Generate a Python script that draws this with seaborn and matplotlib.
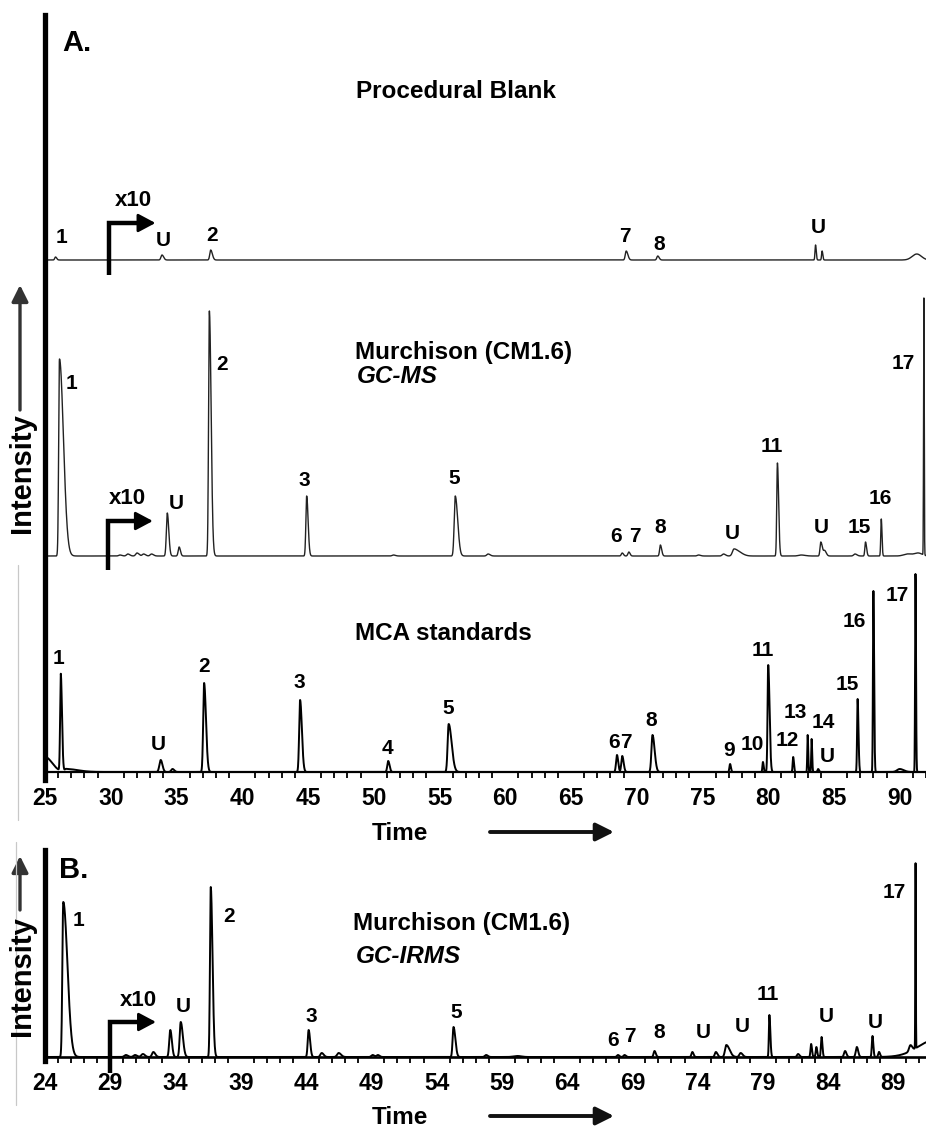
import numpy as np
import pandas as pd
import matplotlib
matplotlib.use("Agg")
import matplotlib.pyplot as plt
from matplotlib.ticker import FixedLocator, MultipleLocator, NullFormatter
from matplotlib.patches import FancyArrowPatch
from matplotlib.lines import Line2D
import seaborn as sns

sns.set_theme(style="white")
plt.rcParams["font.family"] = ["Liberation Sans", "DejaVu Sans"]
plt.rcParams["font.weight"] = "bold"
plt.rcParams["text.color"] = "black"
plt.rcParams["xtick.color"] = "black"
plt.rcParams["xtick.labelcolor"] = "black"
plt.rcParams["axes.labelcolor"] = "black"

# ---------------------------------------------------------------- data
# Peak tables: retention time (min), height (arb. units), rise width, tail ratio
blank_rt = [25.8, 33.9, 37.6, 69.2, 71.6, 83.6, 84.1, 91.3]
blank_h = [3, 5, 10, 9, 4, 15, 9, 6]
blank_w = [0.06, 0.08, 0.07, 0.07, 0.07, 0.04, 0.04, 0.35]
blank_tail = [1.5, 1.5, 1.8, 1.8, 1.5, 1.3, 1.3, 1.0]

gcms_rt = [26.1, 30.7, 31.3, 32.0, 32.5, 33.1, 34.3, 35.2, 37.5, 44.9, 51.5,
           56.2, 58.7, 68.9, 69.4, 71.8, 74.7, 76.6, 77.4, 77.9, 80.7, 82.5,
           84.0, 84.3, 86.6, 87.4, 88.6, 90.6, 91.4, 91.84]
gcms_h = [197, 1, 2, 3, 2, 2, 43, 9, 245, 60, 1,
          60, 2, 3, 4, 11, 1, 2, 7, 2, 93, 1,
          14, 5, 2, 14, 37, 2, 3, 257]
gcms_w = [0.06, 0.1, 0.1, 0.1, 0.1, 0.1, 0.07, 0.07, 0.06, 0.06, 0.1,
          0.08, 0.1, 0.07, 0.07, 0.06, 0.1, 0.1, 0.12, 0.2, 0.05, 0.2,
          0.06, 0.08, 0.1, 0.05, 0.04, 0.3, 0.3, 0.025]
gcms_tail = [5.0, 1.5, 1.5, 1.5, 1.5, 1.5, 1.6, 1.4, 2.2, 1.8, 1.5,
             2.3, 1.5, 1.3, 1.3, 1.6, 1.5, 1.5, 2.5, 1.5, 1.8, 1.5,
             2.0, 1.5, 1.5, 1.6, 1.3, 1.0, 1.0, 1.0]

mca_rt = [25.0, 26.2, 26.6, 33.8, 34.7, 37.1, 44.4, 51.1, 55.7, 68.5, 68.9,
          71.2, 77.1, 79.6, 80.0, 81.9, 83.0, 83.3, 83.8, 86.8, 88.0, 90.0, 91.2]
mca_h = [15, 97, 3, 12, 3, 89, 72, 11, 48, 17, 16,
         37, 8, 10, 107, 15, 37, 33, 3, 73, 181, 3, 198]
mca_w = [0.03, 0.05, 0.1, 0.1, 0.1, 0.07, 0.07, 0.07, 0.08, 0.07, 0.07,
         0.08, 0.05, 0.04, 0.05, 0.04, 0.03, 0.03, 0.05, 0.04, 0.035, 0.2, 0.03]
mca_tail = [18.0, 1.8, 9.0, 1.3, 1.3, 2.0, 1.9, 1.5, 2.8, 1.3, 1.5,
            2.0, 1.3, 1.3, 2.0, 1.4, 1.4, 1.4, 1.2, 1.6, 1.5, 1.5, 1.3]

irms_rt = [25.4, 30.2, 30.9, 31.5, 32.3, 33.6, 34.4, 36.7, 44.2, 45.2, 46.5,
           49.1, 49.5, 55.3, 57.8, 60.2, 67.9, 68.4, 70.7, 73.6, 75.4, 76.2,
           77.3, 79.5, 81.7, 82.7, 83.1, 83.5, 85.3, 86.2, 87.4, 87.9, 90.3,
           92.2, 90.7]
irms_h = [155, 2, 2, 3, 5, 27, 35, 170, 27, 4, 4,
          2, 2, 30, 2, 1, 2, 2, 6, 5, 5, 12,
          4, 42, 3, 13, 10, 20, 6, 10, 21, 5, 6,
          17, 185]
irms_w = [0.07, 0.12, 0.12, 0.12, 0.1, 0.08, 0.08, 0.06, 0.07, 0.1, 0.12,
          0.1, 0.1, 0.07, 0.1, 0.3, 0.08, 0.08, 0.07, 0.07, 0.08, 0.1,
          0.1, 0.04, 0.08, 0.05, 0.05, 0.05, 0.08, 0.08, 0.05, 0.06, 0.1,
          1.3, 0.02]
irms_tail = [4.5, 1.3, 1.3, 1.3, 1.5, 1.5, 2.0, 2.2, 1.6, 1.5, 1.5,
             1.3, 1.3, 2.0, 1.3, 1.0, 1.3, 1.3, 1.4, 1.3, 1.5, 2.5,
             1.5, 1.8, 1.3, 1.3, 1.3, 1.3, 1.3, 1.3, 1.3, 1.3, 1.3,
             1.0, 1.0]

# Peak annotations: (label, time, level)
blank_labels = [("1", 26.29, 535), ("U", 33.97, 532), ("2", 37.70, 537),
                ("7", 69.11, 536), ("8", 71.69, 528), ("U", 83.78, 545)]
gcms_labels = [("1", 27.05, 389), ("2", 38.46, 408), ("U", 34.96, 269),
               ("3", 44.70, 292), ("5", 56.10, 294), ("6", 68.42, 236),
               ("7", 69.87, 236), ("8", 71.77, 245), ("U", 77.24, 239),
               ("11", 80.29, 326), ("U", 84.01, 245), ("15", 86.90, 245),
               ("16", 88.50, 274), ("17", 90.25, 409)]
mca_labels = [("1", 25.99, 114), ("U", 33.59, 27), ("2", 37.09, 106),
              ("3", 44.32, 89), ("4", 51.01, 24), ("5", 55.65, 63),
              ("6", 68.27, 30), ("7", 69.18, 30), ("8", 71.08, 51),
              ("9", 77.02, 21), ("10", 78.76, 28), ("11", 79.60, 121),
              ("12", 81.43, 31), ("13", 82.03, 59), ("14", 84.16, 49),
              ("U", 84.47, 16), ("15", 85.99, 87), ("16", 86.52, 151),
              ("17", 89.79, 177)]
irms_labels = [("1", 26.60, 137), ("2", 38.08, 140), ("U", 34.56, 50),
               ("3", 44.43, 40), ("5", 55.52, 44), ("6", 67.53, 16),
               ("7", 68.84, 20), ("8", 71.05, 24), ("U", 74.42, 24),
               ("U", 77.40, 30), ("11", 79.39, 62), ("U", 83.83, 40),
               ("U", 87.58, 35), ("17", 89.03, 165)]

ticks_a = [25, 30, 35, 40, 45, 50, 55, 60, 65, 70, 75, 80, 85, 90]
ticks_b = [24, 29, 34, 39, 44, 49, 54, 59, 64, 69, 74, 79, 84, 89]

# vertical offsets of the stacked traces in panel A
OFFSET_BLANK, OFFSET_GCMS, OFFSET_MCA = 512, 216, 0

PEAK_FS = 15
TITLE_FS = 17.5


def chromatogram(t, rt, h, w, tail):
    y = np.zeros_like(t)
    for t0, a, s, k in zip(rt, h, w, tail):
        sig = np.where(t < t0, s, s * k)
        y += a * np.exp(-0.5 * ((t - t0) / sig) ** 2)
    return y


W, H = 926, 1129
fig = plt.figure(figsize=(W / 100, H / 100), dpi=100)


def fx(px):
    return px / W


def fy(py):
    return 1 - py / H


def style_axis(ax, ticks, lw_base):
    for s in ("top", "right"):
        ax.spines[s].set_visible(False)
    ax.spines["left"].set_linewidth(3.8)
    ax.spines["left"].set_color("black")
    ax.spines["bottom"].set_position(("data", 0))
    ax.spines["bottom"].set_linewidth(lw_base)
    ax.spines["bottom"].set_color("black")
    ax.set_yticks([])
    ax.xaxis.set_major_locator(FixedLocator(ticks))
    ax.xaxis.set_minor_locator(MultipleLocator(1))
    ax.xaxis.set_minor_formatter(NullFormatter())
    ax.tick_params(axis="x", which="major", direction="out", length=6.5,
                   width=1.5, color="black", labelcolor="black", pad=4,
                   labelsize=16.5)
    ax.tick_params(axis="x", which="minor", direction="out", length=4.5,
                   width=1.3, color="black", bottom=True)
    for lab in ax.get_xticklabels():
        lab.set_fontweight("bold")
    ax.set_xlabel("")
    ax.set_ylabel("")
    ax.grid(False)
    ax.patch.set_alpha(0)


def draw_trace(ax, t, y, lw, color="black"):
    df = pd.DataFrame({"time": t, "signal": y})
    sns.lineplot(data=df, x="time", y="signal", ax=ax, color=color,
                 linewidth=lw, estimator=None, errorbar=None)


def label_peaks(ax, labels, size=PEAK_FS):
    for txt, x, y in labels:
        ax.text(x, y, txt, ha="center", va="center", fontsize=size,
                fontweight="bold", color="black")


def x10_marker(ax, x0, y_bot, x1, y_arrow):
    # right-angle bent arrow: vertical stem, horizontal shaft, filled head
    ax.plot([x0, x0, x1 - 0.6], [y_bot, y_arrow, y_arrow], color="black", lw=3.2,
            solid_capstyle="butt", solid_joinstyle="miter", clip_on=False)
    ax.annotate("", xy=(x1, y_arrow), xytext=(x1 - 0.7, y_arrow),
                arrowprops=dict(arrowstyle="-|>,head_length=0.75,head_width=0.4",
                                lw=2.0, color="black", shrinkA=0, shrinkB=0,
                                mutation_scale=14),
                annotation_clip=False)


# ---------------------------------------------------------------- panel A
axA = fig.add_axes([fx(45), fy(780), fx(926 - 45), (780 - 15) / H])
tA = np.arange(25.0, 92.0001, 0.01)

draw_trace(axA, tA, OFFSET_BLANK + chromatogram(tA, blank_rt, blank_h, blank_w, blank_tail), 1.0, "#222222")
draw_trace(axA, tA, OFFSET_GCMS + chromatogram(tA, gcms_rt, gcms_h, gcms_w, gcms_tail), 1.0, "#222222")
draw_trace(axA, tA, OFFSET_MCA + chromatogram(tA, mca_rt, mca_h, mca_w, mca_tail), 1.4, "black")

axA.set_xlim(25, 92)
axA.set_ylim(-8, 757)
style_axis(axA, ticks_a, 1.6)

label_peaks(axA, blank_labels)
label_peaks(axA, gcms_labels)
label_peaks(axA, mca_labels)

axA.text(48.65, 674, "Procedural Blank", ha="left", va="baseline", fontsize=TITLE_FS, fontweight="bold")
axA.text(48.57, 413, "Murchison (CM1.6)", ha="left", va="baseline", fontsize=TITLE_FS, fontweight="bold")
axA.text(48.75, 389, "GC-MS", ha="left", va="baseline", fontsize=TITLE_FS, fontweight="bold", style="italic")
axA.text(48.57, 132, "MCA standards", ha="left", va="baseline", fontsize=TITLE_FS, fontweight="bold")
axA.text(26.3, 729, "A.", ha="left", va="center", fontsize=21, fontweight="bold")

axA.text(31.69, 572, "x10", ha="center", va="center", fontsize=16, fontweight="bold")
x10_marker(axA, 29.87, 497, 33.4, 549)
axA.text(31.24, 274, "x10", ha="center", va="center", fontsize=16, fontweight="bold")
x10_marker(axA, 29.79, 202, 33.2, 251)

# ---------------------------------------------------------------- panel B
axB = fig.add_axes([fx(45), fy(1061), fx(926 - 45), (1061 - 850) / H])
tB = np.arange(24.0, 91.5001, 0.01)
draw_trace(axB, tB, chromatogram(tB, irms_rt, irms_h, irms_w, irms_tail), 1.4, "black")
axB.set_xlim(24, 91.5)
axB.set_ylim(-4, 207)
style_axis(axB, ticks_b, 1.9)
label_peaks(axB, irms_labels)

axB.text(47.57, 127, "Murchison (CM1.6)", ha="left", va="baseline", fontsize=TITLE_FS, fontweight="bold")
axB.text(47.80, 94, "GC-IRMS", ha="left", va="baseline", fontsize=TITLE_FS, fontweight="bold", style="italic")
axB.text(25.1, 187, "B.", ha="left", va="center", fontsize=21, fontweight="bold")
axB.text(31.12, 57, "x10", ha="center", va="center", fontsize=16, fontweight="bold")
x10_marker(axB, 29.0, -16, 32.5, 35)

# ---------------------------------------------------------------- figure-level labels
for ycen in (833, 1117):
    fig.text(fx(400), fy(ycen), "Time", ha="center", va="center", fontsize=17.5, fontweight="bold")
    fig.add_artist(FancyArrowPatch((fx(490), fy(ycen - 1)), (fx(614), fy(ycen - 1)),
                                   transform=fig.transFigure,
                                   arrowstyle="-|>,head_length=0.9,head_width=0.45",
                                   mutation_scale=12, lw=2.8, color="#111111",
                                   shrinkA=0, shrinkB=0))

for ycen, y0, y1 in ((473, 410, 285), (976, 910, 856)):
    fig.text(fx(22), fy(ycen), "Intensity", rotation=90, ha="center", va="center",
             fontsize=21, fontweight="bold")
    fig.add_artist(FancyArrowPatch((fx(20), fy(y0)), (fx(20), fy(y1)),
                                   transform=fig.transFigure,
                                   arrowstyle="-|>,head_length=0.9,head_width=0.45",
                                   mutation_scale=11, lw=2.4, color="#333333",
                                   shrinkA=0, shrinkB=0))

# faint panel frame edges on the far left
fig.add_artist(Line2D([fx(18), fx(18)], [fy(565), fy(820)], transform=fig.transFigure,
                      color="#c8c8c8", lw=0.9))
fig.add_artist(Line2D([fx(16), fx(16)], [fy(842), fy(1105)], transform=fig.transFigure,
                      color="#c8c8c8", lw=0.9))

fig.savefig("out.png", dpi=100, facecolor="white")
